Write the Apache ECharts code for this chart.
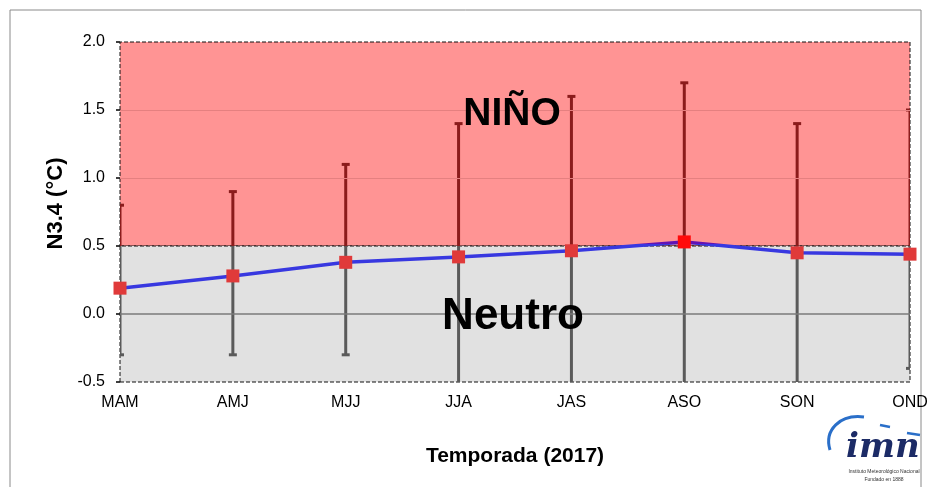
<!DOCTYPE html>
<html>
<head>
<meta charset="utf-8">
<script src="https://cdn.jsdelivr.net/npm/echarts@6/dist/echarts.min.js"></script>
<style>
  html, body { margin: 0; padding: 0; background: #fff; }
  #chart { width: 932px; height: 487px; }
</style>
</head>
<body>
<div id="chart"></div>
<script>
// temporadas y valores
const categories = ['MAM', 'AMJ', 'MJJ', 'JJA', 'JAS', 'ASO', 'SON', 'OND']
const n34 = [0.19, 0.28, 0.38, 0.42, 0.465, 0.53, 0.45, 0.44]
const errHigh = [0.8, 0.9, 1.1, 1.4, 1.6, 1.7, 1.4, 1.5]
const errLow = [-0.3, -0.3, -0.3, -0.6, -0.6, -0.6, -0.6, -0.4]
const yMin = -0.5
const yMax = 2.0
const yStep = 0.5
const ninoLimit = 0.5

const chart = echarts.init(document.getElementById('chart'))

const font = '"Liberation Sans", Arial, sans-serif'

// color de la linea: morado sobre el umbral de 0.5
const nMax = Math.max(...n34)
const nMin = Math.min(...n34)
const cut = nMax > ninoLimit ? (nMax - ninoLimit) / (nMax - nMin) : 0
const lineColor = new echarts.graphic.LinearGradient(0, 0, 0, 1, [
  { offset: 0, color: '#6212b4' },
  { offset: cut, color: '#6212b4' },
  { offset: cut, color: '#3838e0' },
  { offset: 1, color: '#3838e0' }
])

chart.setOption({
  animation: false,
  grid: { left: 120, right: 22, top: 42, bottom: 105 },
  xAxis: {
    type: 'category',
    data: categories,
    boundaryGap: false,
    axisLine: { show: false },
    axisTick: { show: false },
    axisLabel: { color: '#000', fontSize: 16, fontFamily: font, margin: 13 },
    splitLine: { show: false },
    name: 'Temporada (2017)',
    nameLocation: 'middle',
    nameGap: 64,
    nameTextStyle: { color: '#000', fontSize: 21, fontWeight: 'bold', fontFamily: font }
  },
  yAxis: {
    type: 'value',
    min: yMin,
    max: yMax,
    interval: yStep,
    axisLine: { show: false },
    axisTick: { show: true, length: 4, lineStyle: { color: '#000', width: 1.5 } },
    axisLabel: { color: '#000', fontSize: 16, fontFamily: font, margin: 15,
      formatter: v => v.toFixed(1) },
    splitLine: { show: false },
    name: 'N3.4 (°C)',
    nameLocation: 'middle',
    nameGap: 44,
    nameTextStyle: { color: '#000', fontSize: 22, fontWeight: 'bold', fontFamily: font,
      padding: [0, 0, 0, 17] }
  },
  series: [
    {
      // fondo: zonas Niño / Neutro
      type: 'line',
      data: [],
      z: 1,
      markArea: {
        silent: true,
        itemStyle: { borderColor: '#111', borderWidth: 1, borderType: 'dashed' },
        data: [
          [{ yAxis: ninoLimit, itemStyle: { color: '#ff9494' } }, { yAxis: yMax }],
          [{ yAxis: yMin, itemStyle: { color: '#e1e1e1' } }, { yAxis: ninoLimit }]
        ]
      },
      markLine: {
        silent: true,
        symbol: 'none',
        label: { show: false },
        data: [
          { yAxis: 0, lineStyle: { color: '#7a7a7a', width: 1.5, type: 'solid' } },
          { yAxis: 1.0, lineStyle: { color: '#e58080', width: 1, type: 'solid' } },
          { yAxis: 1.5, lineStyle: { color: '#e58080', width: 1, type: 'solid' } }
        ]
      }
    },
    {
      // barras de error
      type: 'custom',
      z: 2,
      clip: true,
      data: categories.map((c, i) => [i, errLow[i], errHigh[i]]),
      renderItem(params, api) {
        const x = api.value(0)
        const lo = api.value(1)
        const hi = api.value(2)
        const pHi = api.coord([x, hi])
        const pLo = api.coord([x, lo])
        const pMid = api.coord([x, Math.max(lo, Math.min(hi, ninoLimit))])
        const red = '#8b1c1c'
        const gray = '#5a5a5a'
        const loColor = lo >= ninoLimit ? red : gray
        const hiColor = hi > ninoLimit ? red : gray
        return {
          type: 'group',
          children: [
            { type: 'line', shape: { x1: pHi[0], y1: pHi[1], x2: pMid[0], y2: pMid[1] },
              style: { stroke: red, lineWidth: 3 } },
            { type: 'line', shape: { x1: pMid[0], y1: pMid[1], x2: pLo[0], y2: pLo[1] },
              style: { stroke: gray, lineWidth: 3 } },
            { type: 'line', shape: { x1: pHi[0] - 4, y1: pHi[1], x2: pHi[0] + 4, y2: pHi[1] },
              style: { stroke: hiColor, lineWidth: 3 } },
            { type: 'line', shape: { x1: pLo[0] - 4, y1: pLo[1], x2: pLo[0] + 4, y2: pLo[1] },
              style: { stroke: loColor, lineWidth: 3 } }
          ]
        }
      }
    },
    {
      // linea
      type: 'line',
      z: 3,
      data: n34,
      showSymbol: false,
      lineStyle: { width: 3.5, color: lineColor }
    },
    {
      // marcadores
      type: 'line',
      z: 4,
      data: n34.map(v => ({
        value: v,
        itemStyle: { color: v > ninoLimit ? '#ff0a0a' : '#e03a3a' }
      })),
      symbol: 'rect',
      symbolSize: 13,
      lineStyle: { width: 0, opacity: 0 }
    }
  ],
  graphic: [
    { type: 'rect', shape: { x: 10, y: 10, width: 911, height: 490 },
      style: { fill: 'none', stroke: '#8a8a8a', lineWidth: 1 }, z: -1 },
    { type: 'text', x: 512, y: 114, z: 100,
      style: { text: 'NIÑO', font: 'bold 39px ' + font, fill: '#000', align: 'center', verticalAlign: 'middle' } },
    { type: 'text', x: 513, y: 317, z: 100,
      style: { text: 'Neutro', font: 'bold 44px ' + font, fill: '#000', align: 'center', verticalAlign: 'middle' } },
    // logo imn
    { type: 'bezierCurve', z: 100,
      shape: { x1: 830, y1: 450, cpx1: 824, cpy1: 430, cpx2: 840, cpy2: 414, x2: 864, y2: 417 },
      style: { fill: 'none', stroke: '#2a6fc9', lineWidth: 3 } },
    { type: 'line', z: 100, shape: { x1: 880, y1: 425, x2: 890, y2: 427 },
      style: { stroke: '#2a6fc9', lineWidth: 2.5 } },
    { type: 'line', z: 100, shape: { x1: 907, y1: 433, x2: 920, y2: 435 },
      style: { stroke: '#2a6fc9', lineWidth: 2.5 } },
    { type: 'text', x: 846, y: 448, z: 100,
      style: { text: 'imn', font: 'italic bold 34px "DejaVu Serif", serif', fill: '#1c2b66',
        verticalAlign: 'middle' } },
    { type: 'text', x: 884, y: 472, z: 100,
      style: { text: 'Instituto Meteorológico Nacional', font: '5px ' + font, fill: '#333',
        align: 'center', verticalAlign: 'middle' } },
    { type: 'text', x: 884, y: 480, z: 100,
      style: { text: 'Fundado en 1888', font: '5px ' + font, fill: '#333',
        align: 'center', verticalAlign: 'middle' } }
  ]
})
</script>
</body>
</html>
